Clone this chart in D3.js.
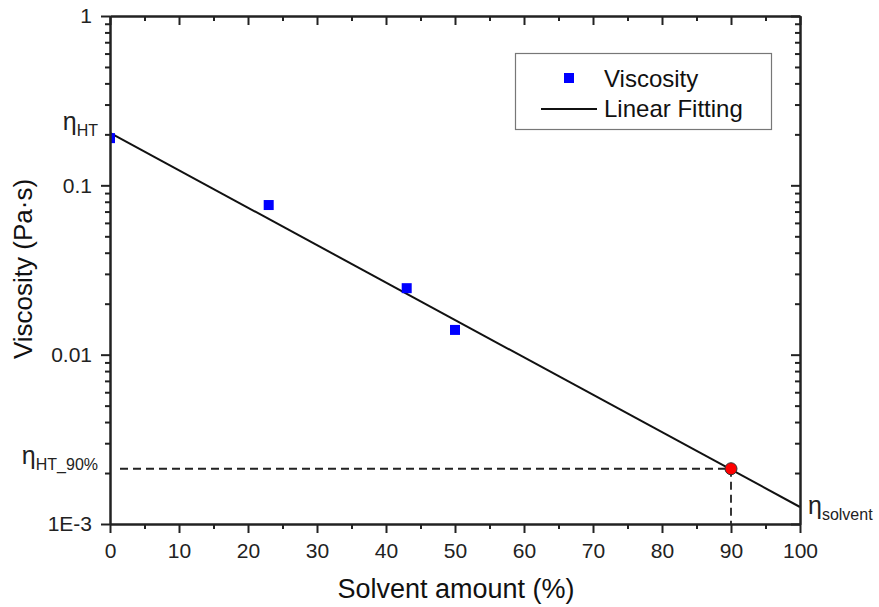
<!DOCTYPE html>
<html>
<head>
<meta charset="utf-8">
<script src="https://cdn.jsdelivr.net/npm/d3@7"></script>
<style>
  body { margin: 0; background: #fff; }
  svg { display: block; font-family: "Liberation Sans", Arial, sans-serif; }
</style>
</head>
<body>
<svg id="chart" width="879" height="607"></svg>
<script>
// data
const solvent = [0, 23, 43, 50];
const viscosity = [0.19, 0.0765, 0.0247, 0.0140];
const fitX = [0, 100];
const fitY = [0.204, 0.00126];
const markX = 90;
const markY = 0.00212;
const xTicks = [0, 10, 20, 30, 40, 50, 60, 70, 80, 90, 100];
const yTicks = [1, 0.1, 0.01, 0.001];
const yTickLabels = ["1", "0.1", "0.01", "1E-3"];

const margin = { top: 16, right: 79, bottom: 83, left: 110 };
const W = 879, H = 607;
const width = W - margin.left - margin.right;
const height = H - margin.top - margin.bottom;

const svg = d3.select("#chart");
const g = svg.append("g").attr("transform", `translate(${margin.left},${margin.top})`);

const x = d3.scaleLinear().domain([0, 100]).range([0, width]);
const y = d3.scaleLog().domain([0.001, 1]).range([height, 0]);

// minor ticks
const xMinor = d3.range(5, 100, 10);
const yMinor = [];
[0.001, 0.01, 0.1].forEach(d => { for (let k = 2; k <= 9; k++) yMinor.push(d * k); });

g.append("clipPath").attr("id", "clip")
  .append("rect").attr("width", width).attr("height", height);

const plot = g.append("g").attr("clip-path", "url(#clip)");

// dashed guides
plot.append("line")
  .attr("x1", x(0) + 10).attr("x2", x(markX))
  .attr("y1", y(markY)).attr("y2", y(markY))
  .attr("stroke", "#222").attr("stroke-width", 1.8).attr("stroke-dasharray", "8,5");
plot.append("line")
  .attr("x1", x(markX)).attr("x2", x(markX))
  .attr("y1", y(markY)).attr("y2", y(0.001))
  .attr("stroke", "#222").attr("stroke-width", 1.8).attr("stroke-dasharray", "8,5");

// fit line
plot.append("path")
  .datum(fitX.map((d, i) => [d, fitY[i]]))
  .attr("fill", "none").attr("stroke", "#111").attr("stroke-width", 2)
  .attr("d", d3.line().x(d => x(d[0])).y(d => y(d[1])));

// points
const ms = 10;
plot.selectAll("rect.pt")
  .data(solvent.map((d, i) => [d, viscosity[i]]))
  .enter().append("rect").attr("class", "pt")
  .attr("x", d => x(d[0]) - ms / 2).attr("y", d => y(d[1]) - ms / 2)
  .attr("width", ms).attr("height", ms).attr("fill", "#0000ff");

plot.append("circle")
  .attr("cx", x(markX)).attr("cy", y(markY)).attr("r", 6)
  .attr("fill", "#ff0000").attr("stroke", "#333").attr("stroke-width", 1);

// axes
const axisColor = "#222";
function styleAxis(sel) {
  sel.selectAll(".domain").attr("stroke", axisColor).attr("stroke-width", 2);
  sel.selectAll(".tick line").attr("stroke", axisColor).attr("stroke-width", 2);
  sel.selectAll("text").attr("fill", "#222").style("font-size", "21px");
}

const xAxis = g.append("g").attr("transform", `translate(0,${height})`)
  .call(d3.axisBottom(x).tickValues(xTicks).tickSize(9).tickPadding(10).tickSizeOuter(0));
styleAxis(xAxis);
g.append("g").attr("transform", `translate(0,${height})`)
  .call(d3.axisBottom(x).tickValues(xMinor).tickSize(5).tickFormat("").tickSizeOuter(0))
  .call(styleAxis);

const yAxis = g.append("g")
  .call(d3.axisLeft(y).tickValues(yTicks).tickSize(9).tickPadding(9).tickSizeOuter(0)
    .tickFormat((d, i) => yTickLabels[i]));
styleAxis(yAxis);
g.append("g")
  .call(d3.axisLeft(y).tickValues(yMinor).tickSize(5).tickFormat("").tickSizeOuter(0))
  .call(styleAxis);

// mirrored axes with inward ticks
g.append("g")
  .call(d3.axisBottom(x).tickValues(xTicks).tickSize(9).tickFormat("").tickSizeOuter(0))
  .call(styleAxis);
g.append("g")
  .call(d3.axisBottom(x).tickValues(xMinor).tickSize(5).tickFormat("").tickSizeOuter(0))
  .call(styleAxis);
g.append("g").attr("transform", `translate(${width},0)`)
  .call(d3.axisLeft(y).tickValues(yTicks).tickSize(9).tickFormat("").tickSizeOuter(0))
  .call(styleAxis);
g.append("g").attr("transform", `translate(${width},0)`)
  .call(d3.axisLeft(y).tickValues(yMinor).tickSize(5).tickFormat("").tickSizeOuter(0))
  .call(styleAxis);

// axis titles
svg.append("text")
  .attr("x", 456).attr("y", 598)
  .attr("text-anchor", "middle").attr("fill", "#111")
  .style("font-size", "27px").text("Solvent amount (%)");
svg.append("text")
  .attr("transform", "translate(32,269) rotate(-90)")
  .attr("text-anchor", "middle").attr("fill", "#111")
  .style("font-size", "26px").text("Viscosity (Pa·s)");

// eta annotations
function eta(px, py, sub, anchorEnd) {
  const t = svg.append("text").attr("x", px).attr("y", py)
    .attr("fill", "#222").attr("text-anchor", anchorEnd ? "end" : "start");
  t.append("tspan").style("font-size", "25px").text("η");
  t.append("tspan").attr("dy", 6).style("font-size", "16px").text(sub);
}
eta(98, 130, "HT", true);
eta(98, 464, "HT_90%", true);
eta(808, 514, "solvent", false);

// legend
const lg = svg.append("g");
lg.append("rect")
  .attr("x", 515.5).attr("y", 53.5).attr("width", 256).attr("height", 76)
  .attr("fill", "#fff").attr("stroke", "#777").attr("stroke-width", 1.2);
lg.append("rect")
  .attr("x", 569 - ms / 2).attr("y", 78 - ms / 2).attr("width", ms).attr("height", ms)
  .attr("fill", "#0000ff");
lg.append("line")
  .attr("x1", 541).attr("x2", 597).attr("y1", 109).attr("y2", 109)
  .attr("stroke", "#111").attr("stroke-width", 2);
lg.append("text").attr("x", 604).attr("y", 87).attr("fill", "#111")
  .style("font-size", "24px").text("Viscosity");
lg.append("text").attr("x", 604).attr("y", 117).attr("fill", "#111")
  .style("font-size", "24px").text("Linear Fitting");
</script>
</body>
</html>
